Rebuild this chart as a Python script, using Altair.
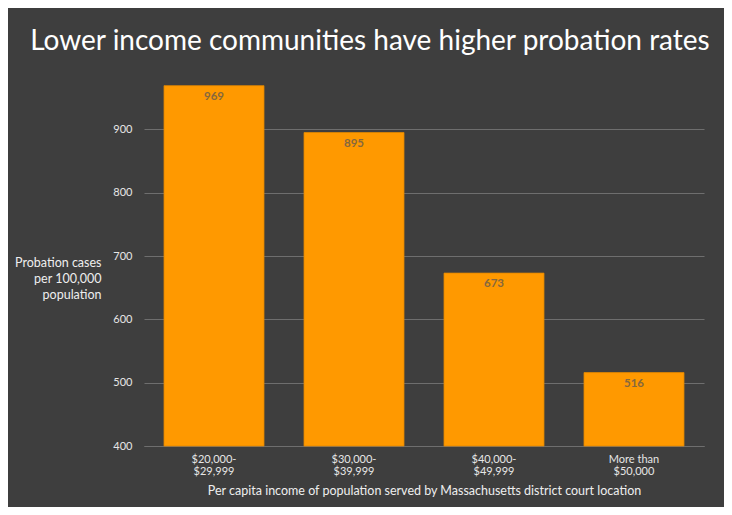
import altair as alt
import pandas as pd

categories = ["$20,000-|$29,999", "$30,000-|$39,999", "$40,000-|$49,999", "More than|$50,000"]
values = [969, 895, 673, 516]
y_ticks = [400, 500, 600, 700, 800, 900]

df = pd.DataFrame({"income": categories, "rate": values})

FONT = "Lato"

x_enc = alt.X(
    "income:N",
    sort=categories,
    scale=alt.Scale(paddingInner=0.2857, paddingOuter=0.1429),
    axis=alt.Axis(
        title="Per capita income of population served by Massachusetts district court location",
        labelExpr="split(datum.label, '|')",
        labelAngle=0,
        labelColor="#e6e6e6",
        labelFont=FONT,
        labelFontSize=11,
        labelLineHeight=12,
        labelPadding=7,
        ticks=False,
        domain=True,
        domainColor="#6e6e6e",
        titleColor="#eeeeee",
        titleFont=FONT,
        titleFontSize=12.5,
        titleFontWeight="normal",
        titlePadding=8,
    ),
)

y_scale = alt.Scale(domain=[400, 1000], zero=False, nice=False)

bars = alt.Chart(df).mark_bar(color="#FF9900", stroke="#e08600", strokeWidth=0.8).encode(
    x=x_enc,
    y=alt.Y(
        "rate:Q",
        scale=y_scale,
        axis=alt.Axis(
            values=y_ticks,
            title=["Probation cases", "per 100,000", "population"],
            titleAngle=0,
            titleAlign="right",
            titleBaseline="middle",
            titleX=-43,
            titleY=196,
            titleColor="#eeeeee",
            titleFont=FONT,
            titleFontSize=12.5,
            titleFontWeight="normal",
            titleLineHeight=16,
            labelColor="#e6e6e6",
            labelFont=FONT,
            labelFontSize=11,
            labelPadding=12,
            ticks=False,
            domain=False,
            grid=True,
            gridColor="#6e6e6e",
            gridWidth=1,
        ),
    ),
    y2=alt.datum(400),
)

labels = alt.Chart(df).mark_text(
    dy=11, baseline="middle", align="center", font=FONT, fontSize=11.5,
    fontWeight="bold", color="#86683e",
).encode(
    x=alt.X("income:N", sort=categories),
    y=alt.Y("rate:Q", scale=y_scale),
    text="rate:Q",
)

chart = (bars + labels).properties(
    width=560,
    height=380,
    autosize=alt.AutoSizeParams(type="none"),
    padding={"left": 136, "top": 58, "right": 20, "bottom": 61},
    background="#3e3e3e",
    title=alt.TitleParams(
        "Lower income communities have higher probation rates",
        color="#ffffff",
        font=FONT,
        fontSize=28,
        fontWeight="normal",
        anchor="middle",
        dx=-54,
        offset=10,
    ),
).configure_view(stroke=None)

chart.save("out.html", embed_options={"renderer": "svg", "actions": False})
